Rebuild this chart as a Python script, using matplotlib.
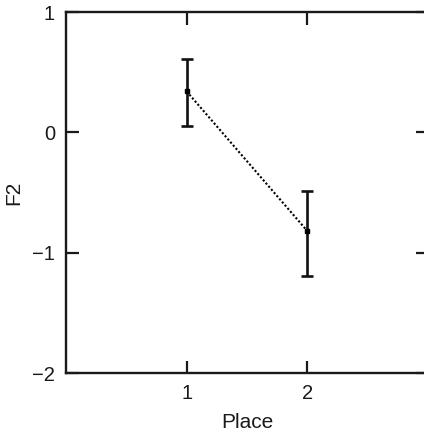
import matplotlib
matplotlib.use('Agg')
import matplotlib.pyplot as plt
import numpy as np

plt.rcParams.update({
    "font.family": ["Liberation Sans", "DejaVu Sans"],
    "font.size": 15,
})

# Mean F2 per place with asymmetric error bounds
place = [1, 2]
f2_mean = [0.34, -0.82]
f2_low = [0.05, -1.19]
f2_high = [0.61, -0.49]

yerr = np.array([np.subtract(f2_mean, f2_low), np.subtract(f2_high, f2_mean)])

fig = plt.figure(figsize=(4.24, 4.36), dpi=100)
# axes runs past the right edge of the canvas
ax = fig.add_axes([66 / 424, 63 / 436, 362 / 424, 361 / 436])

ax.errorbar(place, f2_mean, yerr=yerr, color='black', ecolor='#111111',
            elinewidth=1.9, capsize=4, capthick=1.9, linestyle=(0, (1, 1)),
            linewidth=1.5, marker='s', markersize=2.8)

ax.set_xlim(0, 3)
ax.set_ylim(-2, 1)
ax.set_xticks([1, 2])
ax.set_yticks([-2, -1, 0, 1])
ax.tick_params(direction='in', length=9, width=1.6, pad=8,
               top=True, right=True, labelsize=14.5, colors='#1a1a1a')

for spine in ax.spines.values():
    spine.set_linewidth(1.7)
    spine.set_color('#1a1a1a')

ax.set_xlabel('Place', labelpad=7, color='#1a1a1a')
ax.set_ylabel('F2', labelpad=6, color='#1a1a1a')

fig.savefig('out.png', dpi=100, facecolor='white')
